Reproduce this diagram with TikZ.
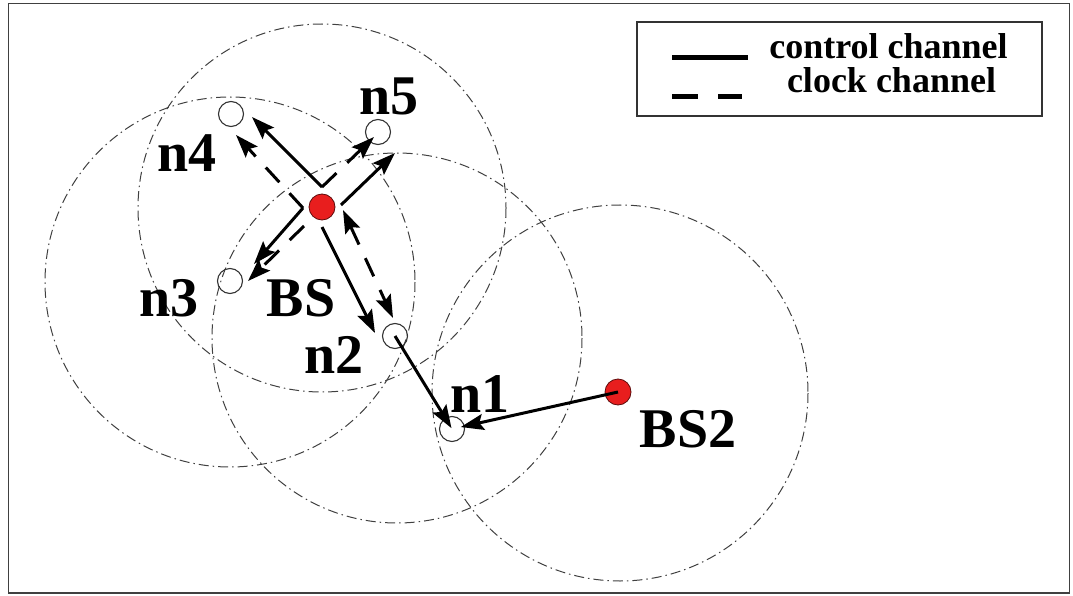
\documentclass[tikz,border=0pt]{standalone}
\usepackage{fontspec}
\setmainfont{Liberation Serif}
\usetikzlibrary{arrows.meta}
\definecolor{dotred}{RGB}{232,30,30}
\begin{document}
\begin{tikzpicture}[x=1pt,y=-1pt,
  rangecirc/.style={draw=black!75, line width=1pt, dash pattern=on 10pt off 4pt on 1.5pt off 4pt},
  sensor/.style={circle, draw=black!80, line width=1.1pt, minimum size=25pt, inner sep=0pt},
  basest/.style={circle, draw=black!60!dotred, line width=0.8pt, fill=dotred, minimum size=26pt, inner sep=0pt},
  lbl/.style={font=\fontsize{56}{60}\selectfont\bfseries, inner sep=0pt, anchor=base},
  lgd/.style={font=\fontsize{36}{38}\selectfont\bfseries, inner sep=0pt, anchor=base},
  arrtip/.style={-{Stealth[length=23pt,width=16pt,inset=4pt]}},
  ctl/.style={line width=3pt, arrtip},
  clk/.style={line width=3pt, arrtip, dash pattern=on 20pt off 15pt},
  clkboth/.style={line width=3pt, {Stealth[length=23pt,width=16pt,inset=4pt]}-{Stealth[length=23pt,width=16pt,inset=4pt]}, dash pattern=on 20pt off 15pt},
]
\useasboundingbox (0,0) rectangle (1073,596);
\draw[line width=1.5pt, black!75] (8.5,3.5) rectangle (1069.5,593);

% range circles
\draw[rangecirc] (230,282) circle (185);
\draw[rangecirc] (322,208) circle (184);
\draw[rangecirc] (397,338) circle (185);
\draw[rangecirc] (620,393) circle (188);

% nodes
\node[basest] (bs) at (322,207) {};
\node[basest] (bs2) at (618,392) {};
\node[sensor] (n4) at (231,114) {};
\node[sensor] (n5) at (378,132) {};
\node[sensor] (n3) at (230,281) {};
\node[sensor] (n2) at (395,336) {};
\node[sensor] (n1) at (452,429) {};

% labels
\node[lbl] (ln4) at (187,172) {n4};
\node[lbl] (ln5) at (389,115) {n5};
\node[lbl] (ln3) at (169,316) {n3};
\node[lbl] (lbs) at (301,316) {BS};
\node[lbl] (ln2) at (334,373) {n2};
\node[lbl] (ln1) at (480,412) {n1};
\node[lbl] (lbs2) at (688,447) {BS2};

% start points around BS
\coordinate (bsT) at (322,187);
\coordinate (bsL) at (303,208);
\coordinate (bsB) at (322,227);
\coordinate (bsR) at (341,205);
\coordinate (bsBL) at (304,226);
\coordinate (bsRB) at (343,210);

% end points near the nodes
\coordinate (c4) at (252,117);
\coordinate (c5) at (395,153);
\coordinate (c3) at (254,264);
\coordinate (c2) at (375,333);
\coordinate (k4) at (236,135);
\coordinate (k5) at (374,137);
\coordinate (k3) at (248,281);
\coordinate (k2) at (393,318);

% control channel
\draw[ctl] (bsT) -- (c4);
\draw[ctl] (bsR) -- (c5);
\draw[ctl] (bsL) -- (c3);
\draw[ctl] (bsB) -- (c2);
\draw[ctl, shorten >=1pt] (n2.center) -- (n1.center);
\draw[ctl, shorten >=9pt] (bs2.center) -- (n1.center);

% clock channel
\draw[clk] (bsL) -- (k4);
\draw[clk] (bsT) -- (k5);
\draw[clk] (bsBL) -- (k3);
\draw[clkboth] (bsRB) -- (k2);

% legend
\node[draw=black!80, line width=1.5pt, minimum width=405pt, minimum height=94pt, inner sep=0pt] (legend) at (839.5,69) {};
\coordinate (la) at (672,58);
\coordinate (lb) at (748,58);
\draw[line width=5pt] (la) -- (lb);
\draw[line width=5pt] (672,97) -- (698,97);
\draw[line width=5pt] (718,97) -- (742,97);
\node[lgd] (t1) at (888.5,59) {control channel};
\node[lgd] (t2) at (891.5,93) {clock channel};
\end{tikzpicture}
\end{document}
